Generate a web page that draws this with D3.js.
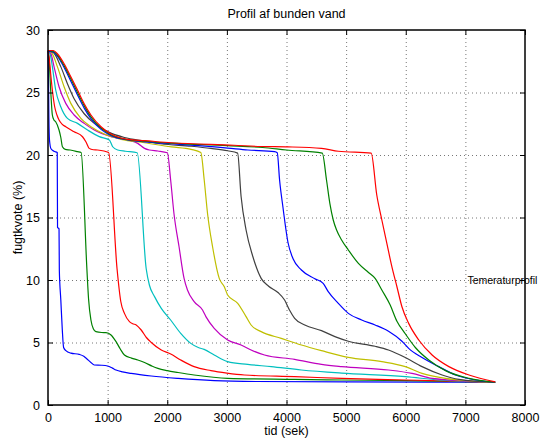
<!DOCTYPE html>
<html>
<head>
<meta charset="utf-8">
<script src="https://cdn.jsdelivr.net/npm/d3@7/dist/d3.min.js"></script>
<style>
  body { margin: 0; background: #fff; }
  svg { font-family: "Liberation Sans", Arial, Helvetica, sans-serif; }
</style>
</head>
<body>
<svg width="541" height="441"></svg>
<script>
// [tid (sek), fugtkvote (%)] per kurve
const blue1 = [[0,28.35],[8,26],[15,23],[25,21.2],[50,20.5],[100,20.3],[155,20.2],[160,14.2],[185,14.1],[190,10.8],[215,8.4],[240,6.0],[262,4.6],[300,4.35],[383,4.15],[523,4.05],[600,3.9],[650,3.7],[720,3.4],[776,3.2],[900,3.18],[1000,3.12],[1080,2.95],[1141,2.8],[1250,2.65],[1394,2.53],[1732,2.32],[2181,2.13],[2788,1.95],[3500,1.88],[5000,1.85],[7500,1.82]];
const green1 = [[0,28.35],[20,27.5],[45,25.2],[73,23.2],[100,22.8],[129,22.66],[185,22.0],[215,21.4],[242,20.66],[290,20.45],[371,20.4],[495,20.27],[555,20.2],[652,10.9],[680,8.5],[720,6.8],[760,6.1],[804,5.87],[900,5.8],[973,5.79],[1057,5.6],[1141,5.07],[1210,4.5],[1282,4.0],[1400,3.75],[1506,3.6],[1619,3.4],[1750,3.1],[1843,2.93],[2000,2.75],[2181,2.6],[2450,2.4],[3013,2.13],[4137,2.05],[4924,2.0],[6000,1.95],[7500,1.82]];
const red1 = [[0,28.35],[20,27.8],[45,26.5],[73,25.2],[112,23.86],[150,23.2],[185,22.8],[240,22.45],[298,22.26],[438,21.86],[579,21.46],[635,21.06],[691,20.53],[760,20.42],[832,20.4],[1017,20.2],[1158,10.9],[1220,8.3],[1282,7.33],[1366,6.67],[1420,6.5],[1479,6.4],[1563,6.0],[1650,5.4],[1732,5.0],[1900,4.4],[2050,4.1],[2226,3.6],[2450,3.07],[2732,2.75],[3000,2.55],[3294,2.4],[4137,2.27],[4924,2.13],[6000,2.0],[7500,1.82]];
const cyan1 = [[0,28.35],[40,28.0],[73,27.07],[129,25.2],[214,23.86],[326,22.93],[495,22.53],[663,22.0],[860,21.47],[1029,21.2],[1085,20.66],[1169,20.4],[1300,20.3],[1496,20.18],[1647,10.9],[1700,9.6],[1787,8.67],[1900,7.73],[2057,6.8],[2226,5.73],[2395,4.93],[2520,4.6],[2619,4.45],[2788,4.0],[3013,3.47],[3350,3.25],[3744,3.07],[4250,2.8],[4924,2.55],[5992,2.27],[6555,2.0],[7500,1.82]];
const magenta1 = [[0,28.35],[50,28.1],[101,27.07],[185,25.46],[298,24.13],[438,23.2],[607,22.53],[776,22.0],[1057,21.47],[1338,21.2],[1506,20.93],[1619,20.53],[1700,20.4],[1843,20.32],[2002,20.18],[2057,18.0],[2113,15.3],[2198,12.66],[2282,10.13],[2339,9.2],[2451,8.27],[2592,7.6],[2648,7.07],[2788,6.13],[3013,5.2],[3238,4.8],[3406,4.4],[3631,4.0],[4137,3.65],[4587,3.25],[4924,3.07],[5711,2.8],[6105,2.53],[6442,2.13],[7500,1.82]];
const yellow1 = [[0,28.35],[60,28.2],[157,27.07],[270,25.46],[383,24.13],[551,22.93],[720,22.26],[944,21.68],[1226,21.25],[1619,20.98],[2069,20.65],[2400,20.45],[2563,20.2],[2620,18.0],[2676,15.3],[2760,12.66],[2872,10.13],[2957,9.46],[3013,8.8],[3182,8.13],[3322,7.07],[3406,6.4],[3575,5.87],[3912,5.33],[4250,4.8],[4587,4.35],[5037,3.81],[5599,3.47],[5992,3.07],[6273,2.53],[6667,2.13],[7500,1.82]];
const black1 = [[0,28.35],[90,28.2],[214,27.07],[326,25.7],[438,24.5],[607,23.3],[776,22.53],[1000,21.87],[1282,21.4],[1619,21.12],[1889,20.9],[2400,20.7],[2732,20.53],[3013,20.34],[3180,20.15],[3238,16.7],[3322,14.0],[3434,11.9],[3575,10.13],[3700,9.5],[3857,9.0],[3968,8.4],[4050,7.6],[4137,6.93],[4306,6.4],[4587,5.95],[4812,5.47],[5037,5.1],[5486,4.7],[5711,4.4],[5992,3.8],[6273,3.07],[6610,2.4],[6892,2.05],[7500,1.82]];
const blue2 = [[0,28.35],[17,28.3],[90,28.25],[157,27.9],[270,27.0],[383,25.9],[495,24.8],[607,23.75],[720,22.9],[889,22.05],[1057,21.55],[1338,21.2],[1619,21.05],[2069,20.9],[3013,20.55],[3350,20.4],[3800,20.27],[3845,20.18],[3884,18.0],[3941,15.8],[4025,13.0],[4110,11.7],[4250,10.8],[4475,10.1],[4615,9.73],[4700,9.07],[4869,8.13],[5037,7.33],[5261,6.8],[5486,6.4],[5711,5.9],[5936,5.1],[6049,4.53],[6273,3.8],[6554,3.07],[6835,2.4],[7172,2.0],[7500,1.82]];
const green2 = [[0,28.35],[17,28.34],[90,28.3],[157,28.0],[270,27.15],[383,26.1],[495,25.0],[607,23.95],[720,23.05],[889,22.15],[1057,21.62],[1338,21.22],[1619,21.1],[2069,20.95],[3000,20.75],[3600,20.6],[4000,20.4],[4600,20.15],[4671,18.0],[4727,16.13],[4784,14.8],[4840,14.0],[4924,13.2],[5037,12.4],[5206,11.33],[5375,10.6],[5486,10.13],[5599,9.2],[5739,8.0],[5852,6.7],[5992,5.7],[6161,4.6],[6386,3.6],[6667,2.75],[7060,2.13],[7500,1.82]];
const red2 = [[0,28.35],[17,28.36],[90,28.36],[157,28.1],[270,27.3],[383,26.26],[495,25.2],[607,24.1],[720,23.2],[889,22.26],[1057,21.68],[1338,21.25],[1619,21.15],[2069,20.98],[3120,20.78],[3575,20.68],[4025,20.65],[4587,20.53],[4870,20.3],[5420,20.15],[5514,16.8],[5599,14.8],[5683,12.93],[5767,11.07],[5852,9.46],[5936,7.86],[6049,6.53],[6218,5.2],[6442,4.0],[6723,3.07],[7060,2.4],[7500,1.85]];

const seriesList = [blue1, green1, red1, cyan1, magenta1, yellow1, black1, blue2, green2, red2];
const lineColors = ["#0000ff", "#008000", "#ff0000", "#00bfbf", "#bf00bf", "#bfbf00", "#404040", "#0000ff", "#008000", "#ff0000"];

const xTicks = [0, 1000, 2000, 3000, 4000, 5000, 6000, 7000, 8000];
const yTicks = [0, 5, 10, 15, 20, 25, 30];

const titleText = "Profil af bunden vand";
const xLabel = "tid (sek)";
const yLabel = "fugtkvote (%)";
const noteText = "Temeraturprofil";
const notePos = [7000, 10];

const svg = d3.select("svg");
const plotLeft = 48, plotRight = 525, plotTop = 30, plotBottom = 405;

const x = d3.scaleLinear().domain([0, 8000]).range([plotLeft, plotRight]);
const y = d3.scaleLinear().domain([0, 30]).range([plotBottom, plotTop]);

// grid
const grid = svg.append("g")
    .attr("stroke", "#777")
    .attr("stroke-width", 1)
    .attr("stroke-dasharray", "1,3");
grid.selectAll(".gx").data(xTicks.slice(1, -1)).join("line")
    .attr("x1", d => x(d) + 0.5).attr("x2", d => x(d) + 0.5)
    .attr("y1", plotTop).attr("y2", plotBottom);
grid.selectAll(".gy").data(yTicks.slice(1, -1)).join("line")
    .attr("y1", d => y(d) + 0.5).attr("y2", d => y(d) + 0.5)
    .attr("x1", plotLeft).attr("x2", plotRight);

// lines
const line = d3.line()
    .x(d => x(d[0]))
    .y(d => y(d[1]))
    .curve(d3.curveMonotoneX);

svg.append("g")
    .attr("fill", "none")
    .attr("stroke-width", 1.2)
    .attr("stroke-linejoin", "round")
    .selectAll("path")
    .data(seriesList)
    .join("path")
    .attr("stroke", (d, i) => lineColors[i])
    .attr("d", line);

// axes (MATLAB style, ticks inside on all sides)
const tickLen = 5;
const fmt = d3.format("d");
svg.append("g").attr("transform", `translate(0,${plotBottom})`)
    .call(d3.axisBottom(x).tickValues(xTicks).tickFormat(fmt).tickSizeInner(-tickLen).tickSizeOuter(0).tickPadding(8));
svg.append("g").attr("transform", `translate(0,${plotTop})`)
    .call(d3.axisTop(x).tickValues(xTicks).tickSizeInner(-tickLen).tickSizeOuter(0).tickFormat(""));
svg.append("g").attr("transform", `translate(${plotLeft},0)`)
    .call(d3.axisLeft(y).tickValues(yTicks).tickFormat(fmt).tickSizeInner(-tickLen).tickSizeOuter(0).tickPadding(8));
svg.append("g").attr("transform", `translate(${plotRight},0)`)
    .call(d3.axisRight(y).tickValues(yTicks).tickSizeInner(-tickLen).tickSizeOuter(0).tickFormat(""));

svg.selectAll(".domain").remove();
svg.selectAll(".tick line").attr("stroke", "#000");
svg.selectAll(".tick text")
    .attr("font-family", "'Liberation Sans', Arial, sans-serif")
    .attr("font-size", 12.5)
    .attr("fill", "#000");

svg.append("rect")
    .attr("x", plotLeft).attr("y", plotTop)
    .attr("width", plotRight - plotLeft).attr("height", plotBottom - plotTop)
    .attr("fill", "none").attr("stroke", "#000").attr("stroke-width", 1.5);

// texts
svg.append("text").attr("x", (plotLeft + plotRight) / 2).attr("y", 18)
    .attr("text-anchor", "middle").attr("font-size", 12.5).text(titleText);
svg.append("text").attr("x", (plotLeft + plotRight) / 2).attr("y", 435)
    .attr("text-anchor", "middle").attr("font-size", 12.5).text(xLabel);
svg.append("text")
    .attr("transform", `translate(22,${(plotTop + plotBottom) / 2}) rotate(-90)`)
    .attr("text-anchor", "middle").attr("font-size", 12.5).text(yLabel);
svg.append("text").attr("x", x(notePos[0]) + 2).attr("y", y(notePos[1]))
    .attr("dy", "0.35em").attr("font-size", 10.5).text(noteText);
</script>
</body>
</html>
